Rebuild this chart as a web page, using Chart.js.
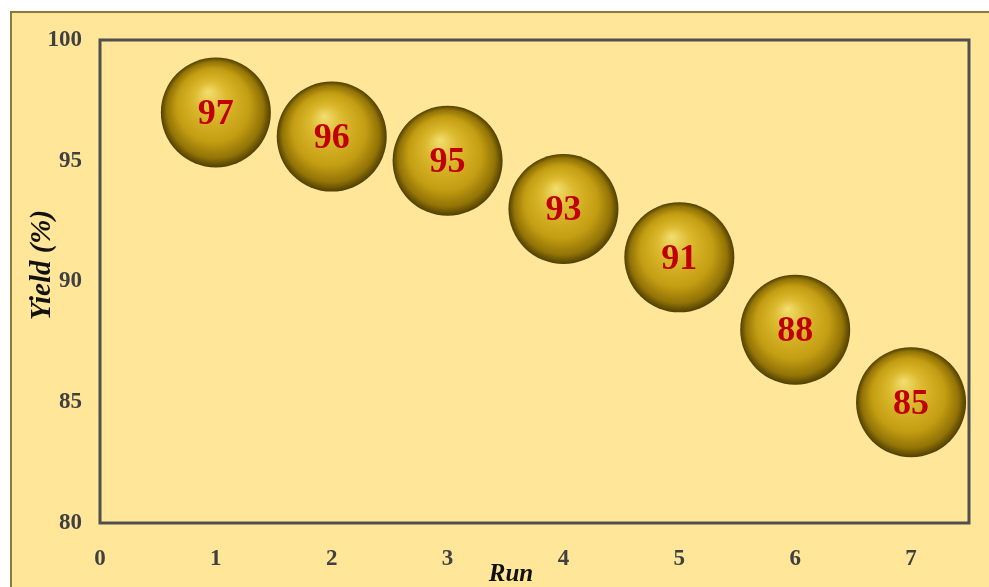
<!DOCTYPE html>
<html>
<head>
<meta charset="utf-8">
<script src="https://cdn.jsdelivr.net/npm/chart.js@4.4.1/dist/chart.umd.min.js"></script>
<style>
  html, body { margin: 0; padding: 0; background: #fff; overflow: hidden; }
  #frame {
    position: absolute; left: 10px; top: 11px; width: 1000px; height: 600px;
    background: #ffe699; border-top: 2px solid #8d7a3a; border-left: 2px solid #8d7a3a;
  }
  #wrap { position: absolute; left: 0; top: 0; width: 989px; height: 587px; }
</style>
</head>
<body>
<div id="frame"></div>
<div id="wrap"><canvas id="yieldChart"></canvas></div>
<script>
// runs and their yields
const runs = [1, 2, 3, 4, 5, 6, 7]
const yields = [97, 96, 95, 93, 91, 88, 85]
const xTicks = [0, 1, 2, 3, 4, 5, 6, 7]
const yTicks = [80, 85, 90, 95, 100]

const BUBBLE_R = 55
const serif = '"Liberation Serif", "Times New Roman", serif'

// gold sphere look: radial gradient with the hot spot above centre
function sphereFill(context) {
  const chart = context.chart
  const p = context.raw
  if (!p || !chart.scales.x) return '#c9a214'
  const x = chart.scales.x.getPixelForValue(p.x)
  const y = chart.scales.y.getPixelForValue(p.y)
  if (!Number.isFinite(x) || !Number.isFinite(y)) return '#c9a214'
  const r = BUBBLE_R
  const g = chart.ctx.createRadialGradient(x - r * 0.14, y - r * 0.38, 0, x, y, r)
  g.addColorStop(0, '#f3de70')
  g.addColorStop(0.3, '#dcb92e')
  g.addColorStop(0.66, '#c49e12')
  g.addColorStop(0.88, '#927306')
  g.addColorStop(1, '#4f3f02')
  return g
}

// plot frame + axis titles
const decorations = {
  id: 'decorations',
  afterDraw(chart) {
    const { ctx, chartArea: a } = chart
    ctx.save()
    ctx.strokeStyle = '#505050'
    ctx.lineWidth = 3
    ctx.strokeRect(a.left, a.top, a.right - a.left, a.bottom - a.top)

    ctx.fillStyle = '#111'
    ctx.textAlign = 'center'
    ctx.textBaseline = 'middle'
    ctx.font = 'italic bold 25px ' + serif
    ctx.fillText('Run', 511, 575)
    ctx.font = 'italic bold 29px ' + serif
    ctx.translate(43, 265)
    ctx.rotate(-Math.PI / 2)
    ctx.fillText('Yield (%)', 0, 0)
    ctx.restore()
  }
}

// value printed on each sphere
const valueLabels = {
  id: 'valueLabels',
  afterDatasetsDraw(chart) {
    const { ctx } = chart
    const meta = chart.getDatasetMeta(0)
    ctx.save()
    ctx.font = 'bold 36px ' + serif
    ctx.fillStyle = '#c00000'
    ctx.textAlign = 'center'
    ctx.textBaseline = 'middle'
    meta.data.forEach((el, i) => ctx.fillText(String(yields[i]), el.x, el.y + 2))
    ctx.restore()
  }
}

const tickFont = { family: serif, size: 23, weight: 'bold' }

new Chart(document.getElementById('yieldChart'), {
  type: 'bubble',
  data: {
    datasets: [{
      data: runs.map((r, i) => ({ x: r, y: yields[i], r: BUBBLE_R })),
      backgroundColor: sphereFill,
      borderWidth: 0
    }]
  },
  options: {
    responsive: true,
    maintainAspectRatio: false,
    animation: false,
    events: [],
    layout: { autoPadding: false, padding: { left: 10, top: 40, right: 20, bottom: 0 } },
    plugins: {
      legend: { display: false },
      tooltip: { enabled: false }
    },
    scales: {
      x: {
        type: 'linear',
        min: 0,
        max: 7.5,
        grid: { display: false, drawTicks: false },
        border: { display: false },
        afterBuildTicks: axis => { axis.ticks = xTicks.map(v => ({ value: v })) },
        afterFit: axis => { axis.height = 64 },
        ticks: { font: tickFont, color: '#404040', padding: 22, maxRotation: 0 }
      },
      y: {
        type: 'linear',
        min: 80,
        max: 100,
        grid: { display: false, drawTicks: false },
        border: { display: false },
        afterBuildTicks: axis => { axis.ticks = yTicks.map(v => ({ value: v })) },
        afterFit: axis => { axis.width = 90 },
        ticks: { font: tickFont, color: '#404040', padding: 18 }
      }
    }
  },
  plugins: [valueLabels, decorations]
})
</script>
</body>
</html>
